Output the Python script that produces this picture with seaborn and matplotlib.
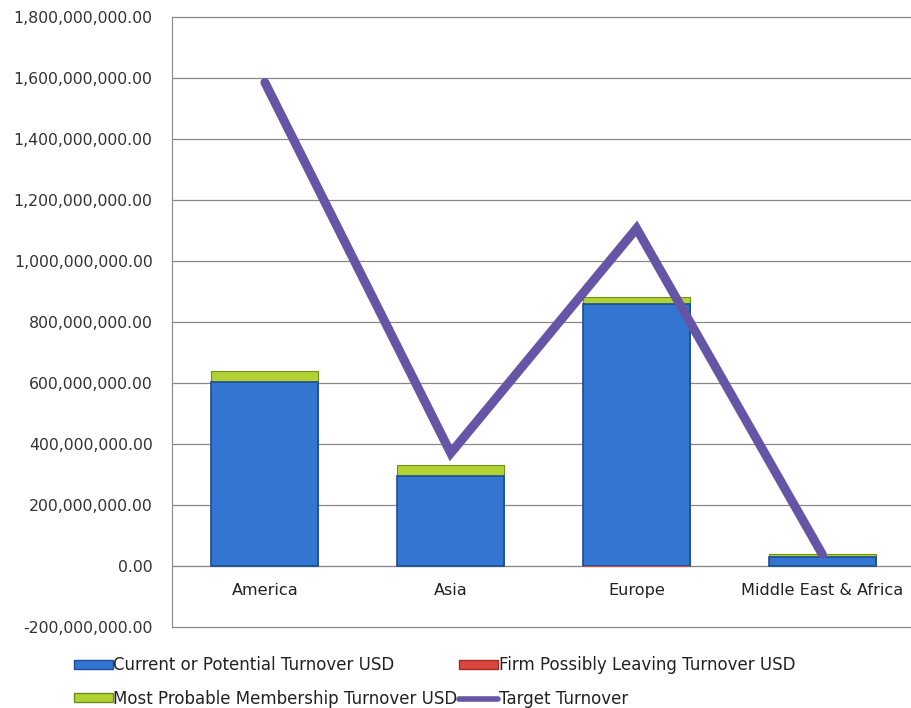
import numpy as np
import pandas as pd
import matplotlib
matplotlib.use("Agg")
import matplotlib.pyplot as plt
import seaborn as sns
from matplotlib.patches import Patch
from matplotlib.lines import Line2D
from matplotlib.ticker import FuncFormatter, FixedLocator

regions = ["America", "Asia", "Europe", "Middle East & Africa"]
current_turnover = [602e6, 294e6, 857e6, 28e6]
firm_leaving = [0.0, 0.0, -4e6, 0.0]
most_probable = [36e6, 36e6, 23e6, 10e6]
target_turnover = [1584e6, 370e6, 1106e6, 38e6]
y_ticks = [-200e6, 0, 200e6, 400e6, 600e6, 800e6, 1000e6, 1200e6, 1400e6, 1600e6, 1800e6]

series_names = ["Current or Potential Turnover USD", "Firm Possibly Leaving Turnover USD",
                "Most Probable Membership Turnover USD", "Target Turnover"]

df = pd.DataFrame({
    "region": regions,
    "current": current_turnover,
    "leaving": firm_leaving,
    "probable": most_probable,
    "target": target_turnover,
})
df["stack_top"] = df["current"] + df["probable"]

sns.set_style("white")
plt.rcParams["font.family"] = ["DejaVu Sans"]

BLUE = "#3276d2"
BLUE_EDGE = "#1d4c94"
GREEN = "#b2d234"
GREEN_EDGE = "#6f8f1c"
RED = "#d9463f"
PURPLE = "#6655a6"
GRID = "#888888"

fig = plt.figure(figsize=(9.12, 7.08), dpi=100)
ax = fig.add_axes([0.1886, 0.110, 0.815, 0.867])

bw = 0.575
sns.barplot(data=df, x="region", y="stack_top", color=GREEN, width=bw,
            edgecolor=GREEN_EDGE, linewidth=0.8, saturation=1, ax=ax, zorder=2)
sns.barplot(data=df, x="region", y="current", color=BLUE, width=bw,
            edgecolor=BLUE_EDGE, linewidth=1.2, saturation=1, ax=ax, zorder=3)
sns.barplot(data=df, x="region", y="leaving", color=RED, width=bw,
            linewidth=0, saturation=1, ax=ax, zorder=3)

sns.lineplot(x=np.arange(len(regions)), y=df["target"], color=PURPLE, linewidth=6.5,
             ax=ax, zorder=5, solid_joinstyle="miter")

ax.set_ylim(-210e6, 1801e6)
ax.set_xlim(-0.5, len(regions) - 0.5)
ax.yaxis.set_major_locator(FixedLocator(y_ticks))
ax.yaxis.set_major_formatter(FuncFormatter(lambda v, p: f"{v:,.2f}"))
ax.grid(axis="y", color=GRID, linewidth=0.9, zorder=0)
ax.set_axisbelow(True)

for s in ["top", "right"]:
    ax.spines[s].set_visible(False)
ax.spines["left"].set_color(GRID)
ax.spines["left"].set_bounds(y_ticks[0], y_ticks[-1])
ax.spines["bottom"].set_position(("data", 0))
ax.spines["bottom"].set_color(GRID)
ax.spines["bottom"].set_zorder(1)

ax.tick_params(axis="y", labelsize=11.3, colors="#333333", length=0, pad=14)
ax.tick_params(axis="x", labelsize=11.6, colors="#222222", length=0, pad=12)
ax.set_xlabel("")
ax.set_ylabel("")

handles = [
    Patch(facecolor=BLUE, edgecolor=BLUE_EDGE, label=series_names[0]),
    Patch(facecolor=GREEN, edgecolor=GREEN_EDGE, label=series_names[2]),
    Patch(facecolor=RED, edgecolor="#a32a25", label=series_names[1]),
    Line2D([0], [0], color=PURPLE, linewidth=4, label=series_names[3]),
]
fig.legend(handles=handles, ncol=2, loc="lower left", bbox_to_anchor=(0.065, -0.021),
           frameon=False, fontsize=12, handlelength=2.3, handleheight=0.45,
           handletextpad=0.05, columnspacing=0.1, labelspacing=0.95,
           labelcolor="#222222")

fig.savefig("out.png", dpi=100)
